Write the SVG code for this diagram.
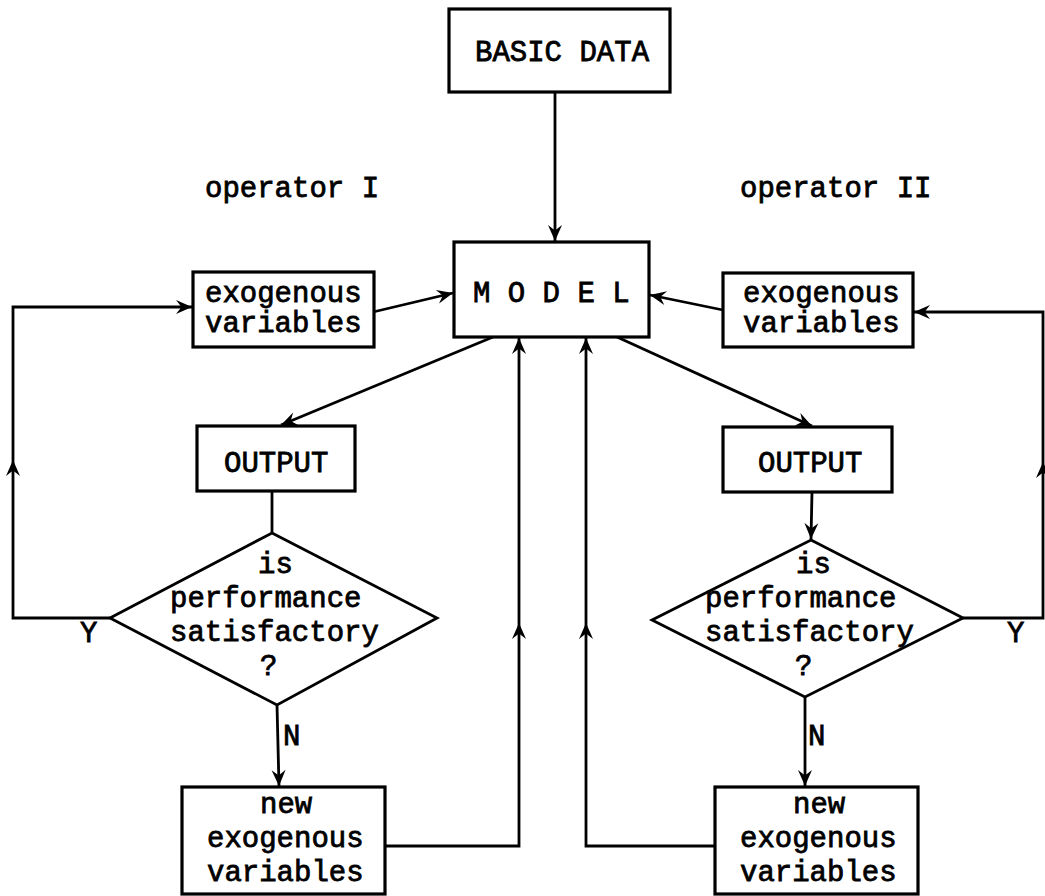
<svg xmlns="http://www.w3.org/2000/svg" width="1045" height="896" viewBox="0 0 1045 896">
  <style>
    .box { fill: #fff; stroke: #000; stroke-width: 3.2; }
    .dia { fill: #fff; stroke: #000; stroke-width: 2.8; stroke-linejoin: miter; }
    .wire { fill: none; stroke: #000; stroke-width: 2.8; }
    .t { font-family: "Liberation Mono", "Courier New", monospace; font-size: 29px; font-weight: normal; fill: #000; stroke: #000; stroke-width: 0.8; }
  </style>
  <defs>
    <marker id="arr" markerUnits="userSpaceOnUse" markerWidth="20" markerHeight="16" viewBox="-17 -8 19 16" refX="0" refY="0" orient="auto">
      <path d="M0,0 L-16,-7 L-10.5,0 L-16,7 Z" fill="#000"/>
    </marker>
  </defs>

  <rect width="1045" height="896" fill="#fff"/>

  <!-- connectors -->
  <g id="connectors">
    <path class="wire" d="M555,92 L555,241" marker-end="url(#arr)"/>
    <path class="wire" d="M373,312 L453,293" marker-end="url(#arr)"/>
    <path class="wire" d="M723,310 L650,295" marker-end="url(#arr)"/>
    <path class="wire" d="M493,337 L281,425" marker-end="url(#arr)"/>
    <path class="wire" d="M617,337 L812,426" marker-end="url(#arr)"/>
    <path class="wire" d="M272,491 L272,533"/>
    <path class="wire" d="M812,492 L811,539" marker-end="url(#arr)"/>
    <!-- operator I: satisfied loop back to exogenous variables -->
    <path class="wire" d="M110,618 L13,618 L13,460" marker-end="url(#arr)"/>
    <path class="wire" d="M13,460 L13,307 L192,307" marker-end="url(#arr)"/>
    <!-- operator II: satisfied loop back to exogenous variables -->
    <path class="wire" d="M963,618 L1043,618 L1043,462" marker-end="url(#arr)"/>
    <path class="wire" d="M1043,462 L1043,312 L914,312" marker-end="url(#arr)"/>
    <!-- not satisfied: new exogenous variables -->
    <path class="wire" d="M277,705 L279,786" marker-end="url(#arr)"/>
    <path class="wire" d="M805,697 L805,786" marker-end="url(#arr)"/>
    <!-- new variables fed back into the model -->
    <path class="wire" d="M385,846 L519,846 L519,623" marker-end="url(#arr)"/>
    <path class="wire" d="M519,623 L519,338" marker-end="url(#arr)"/>
    <path class="wire" d="M715,846 L586,846 L586,623" marker-end="url(#arr)"/>
    <path class="wire" d="M586,623 L586,338" marker-end="url(#arr)"/>
  </g>

  <g id="basic-data">
    <rect class="box" x="449" y="9" width="221" height="83"/>
    <text class="t" x="475" y="61">BASIC DATA</text>
  </g>

  <g id="model">
    <rect class="box" x="454" y="242" width="195" height="95"/>
    <text class="t" x="473" y="302">M O D E L</text>
  </g>

  <g id="label-operator-1">
    <text class="t" x="205" y="197">operator I</text>
  </g>
  <g id="label-operator-2">
    <text class="t" x="740" y="197">operator II</text>
  </g>

  <g id="exo-1">
    <rect class="box" x="193" y="272" width="181" height="75"/>
    <text class="t" x="205" y="302">exogenous</text>
    <text class="t" x="205" y="332">variables</text>
  </g>
  <g id="exo-2">
    <rect class="box" x="723" y="273" width="190" height="74"/>
    <text class="t" x="743" y="302">exogenous</text>
    <text class="t" x="743" y="332">variables</text>
  </g>

  <g id="output-1">
    <rect class="box" x="197" y="426" width="158" height="65"/>
    <text class="t" x="224" y="472">OUTPUT</text>
  </g>
  <g id="output-2">
    <rect class="box" x="723" y="427" width="169" height="65"/>
    <text class="t" x="758" y="472">OUTPUT</text>
  </g>

  <g id="decision-1">
    <polygon class="dia" points="272,533 437,618 277,705 110,618"/>
    <text class="t" x="258" y="573">is</text>
    <text class="t" x="170" y="607">performance</text>
    <text class="t" x="170" y="641">satisfactory</text>
    <text class="t" x="260" y="675">?</text>
  </g>
  <g id="decision-2">
    <polygon class="dia" points="811,540 963,618 805,697 652,620"/>
    <text class="t" x="796" y="573">is</text>
    <text class="t" x="705" y="607">performance</text>
    <text class="t" x="705" y="641">satisfactory</text>
    <text class="t" x="795" y="675">?</text>
  </g>

  <g id="branch-labels">
    <text class="t" x="80" y="642">Y</text>
    <text class="t" x="1007" y="642">Y</text>
    <text class="t" x="283" y="745">N</text>
    <text class="t" x="808" y="745">N</text>
  </g>

  <g id="new-exo-1">
    <rect class="box" x="182" y="787" width="203" height="107"/>
    <text class="t" x="260" y="813">new</text>
    <text class="t" x="207" y="847">exogenous</text>
    <text class="t" x="207" y="881">variables</text>
  </g>
  <g id="new-exo-2">
    <rect class="box" x="715" y="787" width="203" height="107"/>
    <text class="t" x="793" y="813">new</text>
    <text class="t" x="740" y="847">exogenous</text>
    <text class="t" x="740" y="881">variables</text>
  </g>
</svg>
